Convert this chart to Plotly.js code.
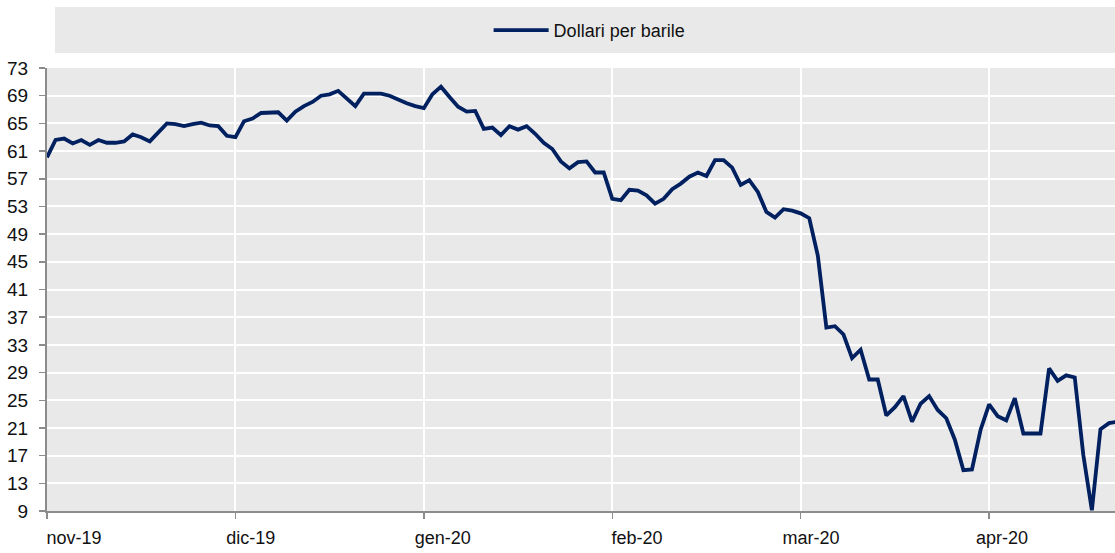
<!DOCTYPE html>
<html>
<head>
<meta charset="utf-8">
<script src="https://cdn.plot.ly/plotly-3.0.1.min.js"></script>
<style>
  html, body { margin: 0; padding: 0; background: #ffffff; }
  #chart { width: 1115px; height: 553px; }
</style>
</head>
<body>
<div id="chart"></div>
<script>
// Daily (trading-day) oil price, dollars per barrel, Nov 2019 - Apr 2020
const seriesName = "Dollari per barile";
const prices = [
  60.1, 62.6, 62.8, 62.1, 62.6, 61.9, 62.6, 62.2, 62.2, 62.4,
  63.4, 63.0, 62.4, 63.8, 65.0, 64.9, 64.6, 64.9, 65.1, 64.7,
  64.6, 63.2, 63.0, 65.3, 65.7, 66.5, 66.5, 66.6, 65.4, 66.7,
  67.5, 68.1, 69.0, 69.2, 69.7, 68.6, 67.5, 69.3, 69.3, 69.3,
  69.0, 68.4, 67.9, 67.5, 67.2, 69.2, 70.3, 68.8, 67.4, 66.7,
  66.8, 64.2, 64.4, 63.3, 64.6, 64.1, 64.6, 63.5, 62.2, 61.3,
  59.5, 58.5, 59.4, 59.5, 57.9, 57.9, 54.1, 53.9, 55.4, 55.3,
  54.6, 53.4, 54.1, 55.5, 56.3, 57.3, 57.9, 57.4, 59.7, 59.7,
  58.6, 56.1, 56.8, 55.1, 52.2, 51.4, 52.6, 52.4, 52.0, 51.3,
  45.9, 35.5, 35.7, 34.5, 31.1, 32.3, 28.0, 28.0, 22.8, 24.0,
  25.6, 21.9, 24.5, 25.6, 23.6, 22.4, 19.3, 14.9, 15.0, 20.7,
  24.4, 22.7, 22.1, 25.3, 20.2, 20.2, 20.2, 29.6, 27.8, 28.6,
  28.3, 17.1, 9.1, 20.8, 21.7, 21.9
];
// category index of each observation
const obsIndex = prices.map((_, i) => i);

// month tick marks (category positions) and their labels
const monthTickIdx = [0, 22, 44, 66, 88, 110];
const monthLabelIdx = [3.15, 23.8, 46.2, 68.9, 89.2, 111.5];
const monthLabels = ["nov-19", "dic-19", "gen-20", "feb-20", "mar-20", "apr-20"];

// y axis ticks
const yTickVals = [9, 13, 17, 21, 25, 29, 33, 37, 41, 45, 49, 53, 57, 61, 65, 69, 73];

const xRange = [0, 124.7];
const yRange = [9, 73];

const FONT = "Liberation Sans, Arial, sans-serif";
const BG = "#e9e9e9";

const trace = {
  type: "scatter",
  mode: "lines",
  name: seriesName,
  x: obsIndex,
  y: prices,
  line: { color: "#002060", width: 3.8 },
  hoverinfo: "y"
};

// invisible carrier trace so the label axis is drawn
const labelCarrier = {
  type: "scatter",
  mode: "lines",
  x: monthLabelIdx,
  y: monthLabelIdx.map(() => null),
  xaxis: "x2",
  yaxis: "y",
  showlegend: false,
  hoverinfo: "skip",
  line: { width: 0 }
};

const layout = {
  width: 1115,
  height: 553,
  margin: { l: 47, r: 0, t: 68, b: 42, pad: 0 },
  paper_bgcolor: "#ffffff",
  plot_bgcolor: BG,
  font: { family: FONT, size: 18, color: "#111111" },
  showlegend: true,
  legend: {
    orientation: "h",
    x: 0.4135, xanchor: "left",
    y: 1.0847, yanchor: "middle",
    bgcolor: "rgba(0,0,0,0)",
    borderwidth: 0,
    font: { family: FONT, size: 18, color: "#111111" },
    itemwidth: 55
  },
  xaxis: {
    range: xRange,
    tickmode: "array",
    tickvals: monthTickIdx,
    ticktext: monthLabels,
    showticklabels: false,
    ticks: "outside",
    ticklen: 6,
    tickwidth: 1.5,
    tickcolor: "#8c8c8c",
    showgrid: true,
    gridcolor: "#ffffff",
    gridwidth: 2,
    showline: true,
    linecolor: "#8c8c8c",
    linewidth: 2,
    zeroline: false,
    fixedrange: true
  },
  xaxis2: {
    overlaying: "x",
    anchor: "y",
    side: "bottom",
    range: xRange,
    tickmode: "array",
    tickvals: monthLabelIdx,
    ticktext: monthLabels,
    ticks: "",
    showgrid: false,
    showline: false,
    zeroline: false,
    showticklabels: true,
    tickfont: { family: FONT, size: 18, color: "#111111" },
    ticklabelstandoff: 14,
    fixedrange: true
  },
  yaxis: {
    range: yRange,
    tickmode: "array",
    tickvals: yTickVals,
    ticks: "outside",
    ticklen: 6,
    tickwidth: 1.5,
    tickcolor: "#8c8c8c",
    tickfont: { family: FONT, size: 19, color: "#111111" },
    ticklabelstandoff: 7,
    showgrid: true,
    gridcolor: "#ffffff",
    gridwidth: 2,
    showline: true,
    linecolor: "#8c8c8c",
    linewidth: 2,
    zeroline: false,
    fixedrange: true
  },
  shapes: [{
    type: "rect",
    xref: "paper", yref: "paper",
    x0: 0.0075, x1: 1,
    y0: 1.0339, y1: 1.1377,
    fillcolor: BG,
    line: { width: 0 },
    layer: "below"
  }]
};

Plotly.newPlot("chart", [trace, labelCarrier], layout, { displayModeBar: false, staticPlot: true });
</script>
</body>
</html>
